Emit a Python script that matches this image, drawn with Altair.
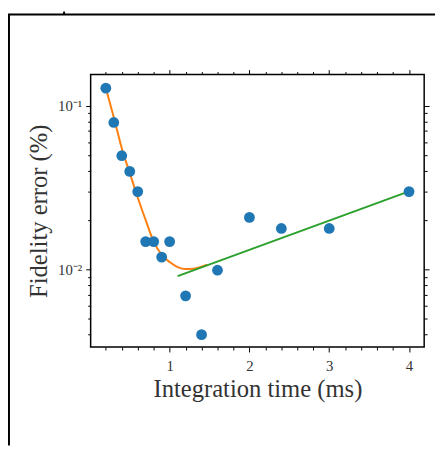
import altair as alt
import pandas as pd

# measured data points
x_pts = [0.2, 0.3, 0.4, 0.5, 0.6, 0.7, 0.8, 0.9, 1.0, 1.2, 1.4, 1.6, 2.0, 2.4, 3.0, 4.0]
y_pts = [0.128, 0.079, 0.0495, 0.0397, 0.0299, 0.0148, 0.0148, 0.0119, 0.0148,
         0.0069, 0.0040, 0.0099, 0.0208, 0.0178, 0.0178, 0.0299]

# orange fit curve
x_fit = [0.2, 0.3, 0.4, 0.5, 0.6, 0.7, 0.8, 0.9, 1.0, 1.1, 1.2, 1.3, 1.4, 1.47]
y_fit = [0.1282, 0.0851, 0.0550, 0.0389, 0.0275, 0.0200, 0.0148, 0.0123,
         0.0111, 0.01035, 0.01007, 0.0101, 0.0104, 0.0107]

# green linear (exponential) fit
x_lin = [1.1, 4.0]
y_lin = [0.0091, 0.0300]

# ticks
x_ticks = [0.2, 0.4, 0.6, 0.8, 1.0, 1.2, 1.4, 1.6, 1.8, 2.0, 2.2, 2.4, 2.6, 2.8,
           3.0, 3.2, 3.4, 3.6, 3.8, 4.0]
y_ticks = [0.004, 0.005, 0.006, 0.007, 0.008, 0.009, 0.01,
           0.02, 0.03, 0.04, 0.05, 0.06, 0.07, 0.08, 0.09, 0.1]

X_DOMAIN = [0.01, 4.19]
Y_DOMAIN = [0.00336, 0.155]

FONT = "Liberation Serif"
TXT = "#333333"

W, H = 339, 277
PAD = {"left": 84, "top": 64, "right": 11, "bottom": 100}

x_major = "datum.value % 1 === 0"
y_major = "datum.value === 0.1 || datum.value === 0.01"

xs = alt.Scale(domain=X_DOMAIN, nice=False, zero=False)
ys = alt.Scale(type="log", domain=Y_DOMAIN, nice=False)

pts_df = pd.DataFrame({"x": x_pts, "y": y_pts})
fit_df = pd.DataFrame({"x": x_fit, "y": y_fit})
lin_df = pd.DataFrame({"x": x_lin, "y": y_lin})

bottom_axis = alt.Axis(
    orient="bottom", values=x_ticks, grid=False, domain=False,
    tickColor="black", tickWidth=1,
    tickSize={"condition": {"test": x_major, "value": 5}, "value": 3},
    labelExpr=f"{x_major} ? format(datum.value, 'd') : ''",
    labelFont=FONT, labelFontSize=15, labelColor=TXT, labelPadding=7,
    labelFlush=False, labelOverlap=False,
    title="Integration time (ms)", titleFont=FONT, titleFontSize=25,
    titleFontWeight="normal", titleColor=TXT, titlePadding=3,
)
left_axis = alt.Axis(
    orient="left", values=y_ticks, grid=False, domain=False,
    tickColor="black", tickWidth=1,
    tickSize={"condition": {"test": y_major, "value": 5}, "value": 3},
    labelExpr="datum.value === 0.1 ? '10⁻¹' : datum.value === 0.01 ? '10⁻²' : ''",
    labelFont=FONT, labelFontSize=15, labelColor=TXT, labelPadding=4,
    labelOverlap=False, labelFlush=False,
    title="Fidelity error (%)", titleFont=FONT, titleFontSize=25,
    titleFontWeight="normal", titleColor=TXT, titlePadding=6,
)
top_axis = alt.Axis(
    orient="top", values=x_ticks, grid=False, domain=False, labels=False,
    tickColor="black", tickWidth=1,
    tickSize={"condition": {"test": x_major, "value": 5}, "value": 3},
)
right_axis = alt.Axis(
    orient="right", values=y_ticks, grid=False, domain=False, labels=False,
    tickColor="black", tickWidth=1,
    tickSize={"condition": {"test": y_major, "value": 5}, "value": 3},
)

points = alt.Chart(pts_df).mark_circle(size=120, color="#1f77b4", opacity=1).encode(
    x=alt.X("x:Q", scale=xs, axis=bottom_axis),
    y=alt.Y("y:Q", scale=ys, axis=left_axis),
)

curve = alt.Chart(fit_df).mark_line(color="#ff7f0e", strokeWidth=2, interpolate="monotone").encode(
    x=alt.X("x:Q", scale=xs, axis=top_axis, title=None),
    y=alt.Y("y:Q", scale=ys, axis=right_axis, title=None),
)

line = alt.Chart(lin_df).mark_line(color="#2ca02c", strokeWidth=2).encode(
    x=alt.X("x:Q", scale=xs, axis=None),
    y=alt.Y("y:Q", scale=ys, axis=None),
)

one = pd.DataFrame({"a": [0]})
border_h = alt.Chart(one).mark_rule(color="black", strokeWidth=2).encode(
    x=alt.value(-PAD["left"]), x2=alt.value(W + PAD["right"]), y=alt.value(-61)
)
border_top_v = alt.Chart(one).mark_rule(color="black", strokeWidth=2).encode(
    x=alt.value(-27), y=alt.value(-PAD["top"]), y2=alt.value(-61)
)
border_left_v = alt.Chart(one).mark_rule(color="black", strokeWidth=2).encode(
    x=alt.value(-PAD["left"] + 1), y=alt.value(-61), y2=alt.value(H + PAD["bottom"])
)

chart = alt.layer(curve, line, points, border_h, border_top_v, border_left_v).resolve_axis(
    x="independent", y="independent"
).properties(
    width=W, height=H,
    autosize=alt.AutoSizeParams(type="none"),
    padding=PAD,
).configure_view(stroke="black", strokeWidth=1.5)

chart.save("out.html", embed_options={"renderer": "svg", "actions": False})
